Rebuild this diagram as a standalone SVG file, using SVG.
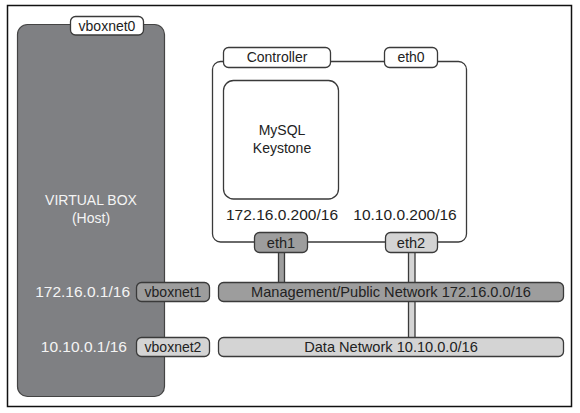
<svg xmlns="http://www.w3.org/2000/svg" width="580" height="413" viewBox="0 0 580 413">
<style>
text{font-family:"Liberation Sans",Arial,sans-serif;font-size:14px;fill:#222;text-anchor:middle}
.w{fill:#f4f4f4}
.ip{font-size:15.5px}
.bar{font-size:14.6px}
.ln{stroke:#3a3a3a;stroke-width:1.3;fill:none}
.lbl{stroke:#3a3a3a;stroke-width:1.3}
.white{fill:#fff}
.dark{fill:#9d9d9d}
.light{fill:#d4d4d4}
</style>
<rect x="0" y="0" width="580" height="413" fill="#fff"/>
<rect x="7.5" y="5.5" width="564" height="401" fill="#fff" stroke="#111" stroke-width="1.5"/>
<g id="host">
<rect x="17.5" y="24.5" width="147" height="372" rx="10" fill="#7f8083" stroke="#444" stroke-width="1.2"/>
<text class="w" x="91" y="205">VIRTUAL BOX</text>
<text class="w" x="91" y="223">(Host)</text>
<text class="w ip" x="130" y="296.5" style="text-anchor:end">172.16.0.1/16</text>
<text class="w ip" x="127" y="352" style="text-anchor:end">10.10.0.1/16</text>
</g>
<g id="vboxnet0">
<rect class="lbl white" x="70.5" y="16.5" width="73" height="18.5" rx="5"/>
<text x="107" y="30.5">vboxnet0</text>
</g>
<g id="controller">
<rect class="ln" x="212.5" y="61.5" width="254" height="180.5" rx="8" fill="#fff"/>
<text class="ip" x="282" y="220">172.16.0.200/16</text>
<text class="ip" x="405" y="220">10.10.0.200/16</text>
</g>
<g id="controller-label">
<rect class="lbl white" x="223.5" y="47.5" width="107" height="20" rx="5"/>
<text x="277" y="62">Controller</text>
</g>
<g id="eth0">
<rect class="lbl white" x="384.5" y="47.5" width="53" height="20" rx="5"/>
<text x="411" y="62">eth0</text>
</g>
<g id="mysql">
<rect class="ln" x="223.5" y="80.5" width="115" height="118.5" rx="10" fill="#fff"/>
<text x="282" y="135">MySQL</text>
<text x="282" y="153">Keystone</text>
</g>
<g id="connectors">
<rect class="lbl dark" x="278.5" y="251" width="6" height="32"/>
<rect class="lbl light" x="408.5" y="251" width="6.5" height="87"/>
</g>
<g id="eth1">
<rect class="lbl dark" x="254.5" y="232.5" width="53" height="20" rx="5"/>
<text class="bar" x="281" y="247.5">eth1</text>
</g>
<g id="eth2">
<rect class="lbl light" x="385.5" y="232.5" width="52" height="20" rx="5"/>
<text class="bar" x="411" y="247.5">eth2</text>
</g>
<g id="mgmt">
<rect class="lbl dark" x="218.5" y="282.5" width="345" height="19" rx="5"/>
<text class="bar" x="391" y="297">Management/Public Network 172.16.0.0/16</text>
</g>
<g id="data">
<rect class="lbl light" x="218.5" y="337.5" width="345" height="19" rx="5"/>
<text class="bar" x="391" y="352">Data Network 10.10.0.0/16</text>
</g>
<g id="vboxnet1">
<rect class="lbl dark" x="136.5" y="282.5" width="73" height="19" rx="5"/>
<text x="173" y="296.5">vboxnet1</text>
</g>
<g id="vboxnet2">
<rect class="lbl light" x="136.5" y="337.5" width="73" height="19" rx="5"/>
<text x="173" y="351.5">vboxnet2</text>
</g>
</svg>
